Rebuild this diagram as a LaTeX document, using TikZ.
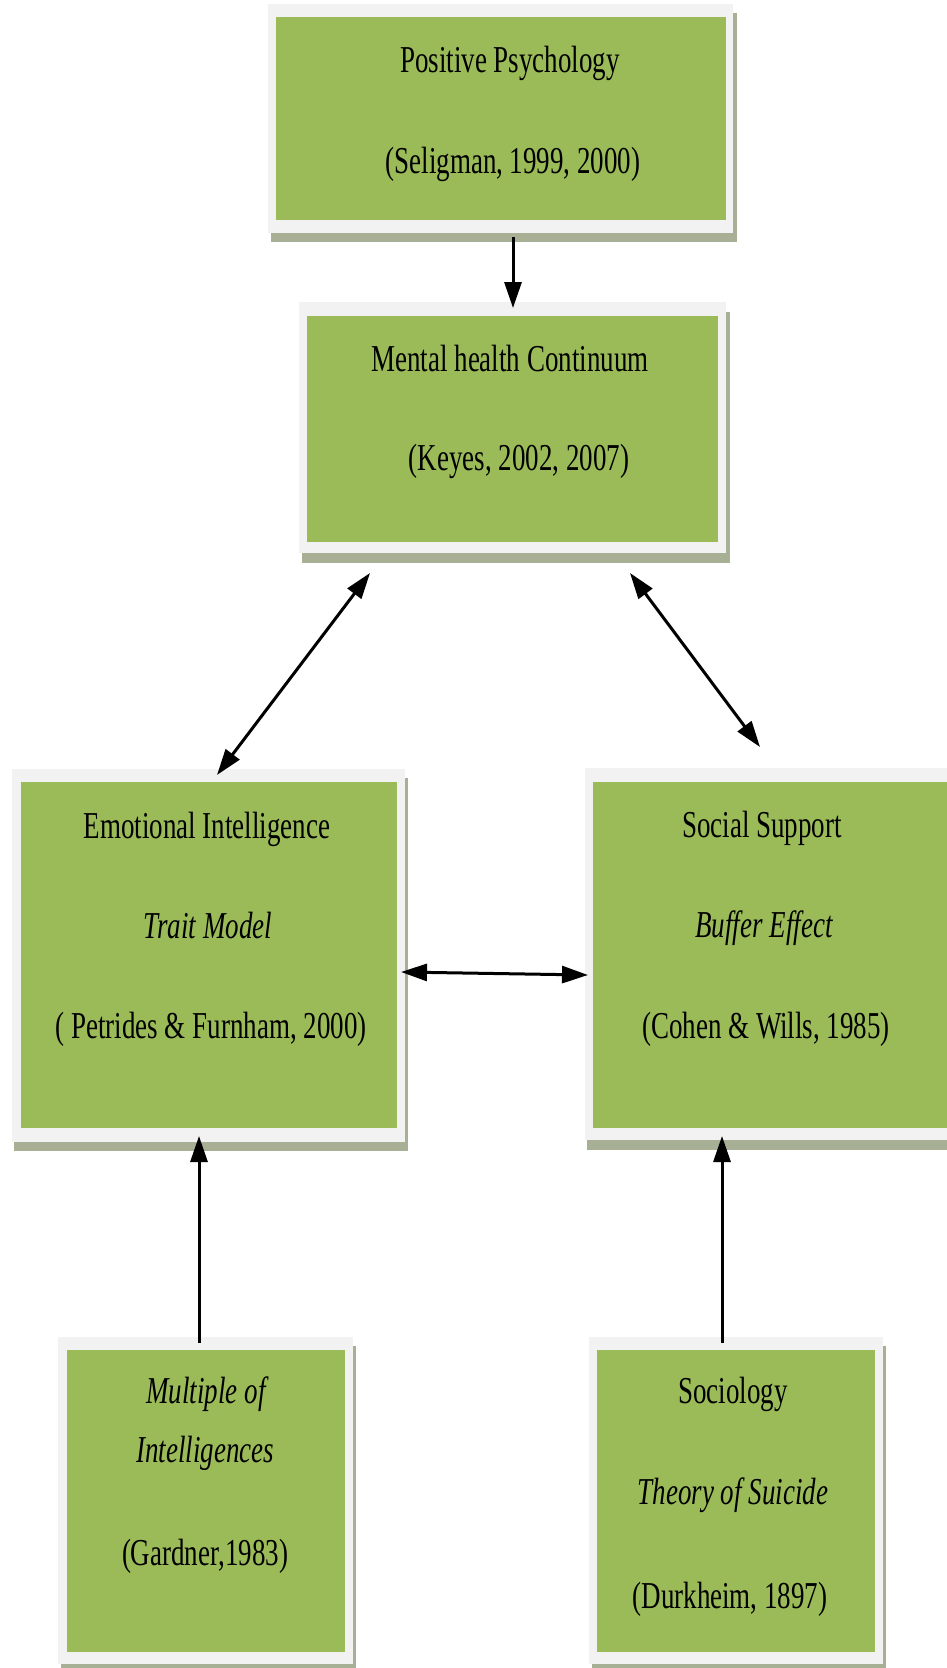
\documentclass[tikz,border=0pt]{standalone}
\usepackage{fontspec}
\setmainfont{Liberation Serif}[FakeStretch=0.71]
\usetikzlibrary{arrows.meta}
\definecolor{boxgreen}{HTML}{9BBB59}
\definecolor{framegray}{HTML}{F2F2F2}
\definecolor{shadowgray}{HTML}{A7AF94}
\begin{document}
\begin{tikzpicture}[x=1pt,y=-1pt,
  lbl/.style={anchor=base, inner sep=0pt, font=\fontsize{38}{40}\selectfont},
  ilbl/.style={anchor=base, inner sep=0pt, font=\fontsize{38}{40}\selectfont\itshape},
  greenbox/.style={fill=boxgreen, draw=none, inner sep=0pt, anchor=north west},
  framebox/.style={fill=framegray},
  shadowbox/.style={fill=shadowgray},
  conn/.style={line width=3pt, -{Triangle[length=26pt,width=17pt]}},
  dconn/.style={line width=3pt, {Triangle[length=26pt,width=17pt]}-{Triangle[length=26pt,width=17pt]}},
]
\useasboundingbox (0,0) rectangle (947,1668);
\fill[white] (0,0) rectangle (947,1668);
\clip (0,0) rectangle (947,1668);

% Box 1: Positive Psychology
\path[shadowbox] (271,13) rectangle (737,242);
\path[framebox] (268,4) rectangle (733,233);
\node[greenbox, minimum width=450pt, minimum height=203pt] (pp) at (276,17) {};
\node[lbl] (pp1) at (510,72) {Positive Psychology};
\node[lbl] (pp2) at (513,173) {(Seligman, 1999, 2000)};

% Box 2: Mental health Continuum
\path[shadowbox] (302,312) rectangle (730,563);
\path[framebox] (299,302) rectangle (726,553);
\node[greenbox, minimum width=411pt, minimum height=226pt] (mh) at (307,316) {};
\node[lbl] (mh1) at (510,371) {Mental health Continuum};
\node[lbl] (mh2) at (519,470) {(Keyes, 2002, 2007)};

% Box 3: Emotional Intelligence
\path[shadowbox] (14,778) rectangle (408,1151);
\path[framebox] (12,769) rectangle (405,1142);
\node[greenbox, minimum width=376pt, minimum height=346pt] (ei) at (21,782) {};
\node[lbl] (ei1) at (207,838) {Emotional Intelligence};
\node[ilbl] (ei2) at (208,938) {Trait Model};
\node[lbl] (ei3) at (211,1038) {( Petrides \& Furnham, 2000)};

% Box 4: Social Support
\path[shadowbox] (587,778) rectangle (990,1150);
\path[framebox] (585,768) rectangle (990,1140);
\node[greenbox, minimum width=400pt, minimum height=346pt] (ss) at (593,782) {};
\node[lbl] (ss1) at (762,837) {Social Support};
\node[ilbl] (ss2) at (764,937) {Buffer Effect};
\node[lbl] (ss3) at (766,1038) {(Cohen \& Wills, 1985)};

% Box 5: Multiple of Intelligences
\path[shadowbox] (61,1346) rectangle (356,1672);
\path[framebox] (58,1337) rectangle (353,1664);
\node[greenbox, minimum width=278pt, minimum height=302pt] (mi) at (67,1350) {};
\node[ilbl] (mi1) at (206,1403) {Multiple of};
\node[ilbl] (mi2) at (205,1462) {Intelligences};
\node[lbl] (mi3) at (205,1565) {(Gardner,1983)};

% Box 6: Sociology
\path[shadowbox] (592,1346) rectangle (886,1672);
\path[framebox] (589,1337) rectangle (883,1664);
\node[greenbox, minimum width=278pt, minimum height=302pt] (so) at (597,1350) {};
\node[lbl] (so1) at (733,1403) {Sociology};
\node[ilbl] (so2) at (733,1504) {Theory of Suicide};
\node[lbl] (so3) at (730,1608) {(Durkheim, 1897)};

% connector end points
\coordinate (a1s) at (513,237);
\coordinate (a1e) at (513,308);
\coordinate (a2s) at (370,573);
\coordinate (a2e) at (217,775);
\coordinate (a3s) at (630,573);
\coordinate (a3e) at (760,747);
\coordinate (a4s) at (401,972);
\coordinate (a4e) at (588,975);
\coordinate (a5s) at (199,1343);
\coordinate (a5e) at (199,1136);
\coordinate (a6s) at (722,1343);
\coordinate (a6e) at (722,1136);

\draw[conn] (a1s) -- (a1e);
\draw[dconn] (a2s) -- (a2e);
\draw[dconn] (a3s) -- (a3e);
\draw[dconn] (a4s) -- (a4e);
\draw[conn] (a5s) -- (a5e);
\draw[conn] (a6s) -- (a6e);
\end{tikzpicture}
\end{document}
